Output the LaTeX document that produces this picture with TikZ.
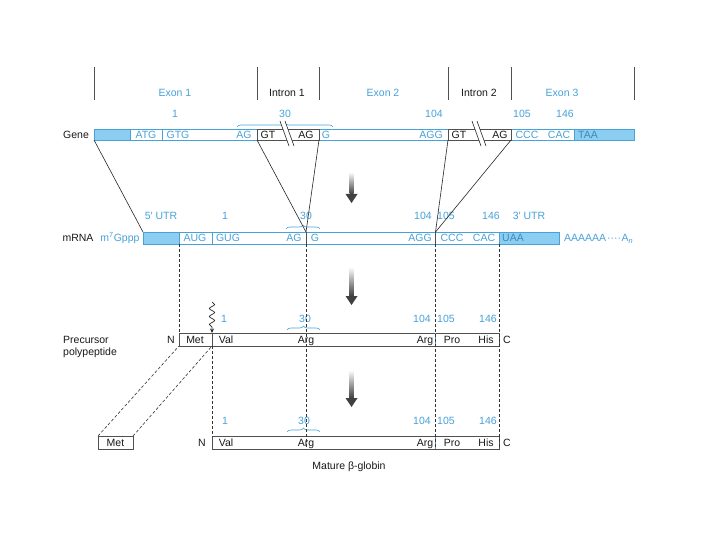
\documentclass[tikz,border=0pt]{standalone}
\usepackage{fontspec}
\setmainfont{Liberation Sans}
\usetikzlibrary{decorations.pathreplacing,decorations.pathmorphing,arrows.meta}
\definecolor{bl}{RGB}{72,162,218}
\definecolor{lb}{RGB}{140,205,242}
\definecolor{dk}{RGB}{80,80,80}
\newcommand{\fsz}{\fontsize{10.5}{12.5}\selectfont}
\begin{document}
\begin{tikzpicture}[x=1pt,y=-1pt,
  txt/.style={inner sep=0pt, font=\fsz, text height=7.5pt, text depth=0pt},
  bt/.style={txt, text=bl},
  kt/.style={txt, text=black!90},
  barb/.style={draw=bl, line width=0.9pt, fill=white, inner sep=0pt, outer sep=0pt, anchor=north west},
  barf/.style={draw=bl, line width=0.9pt, fill=lb, inner sep=0pt, outer sep=0pt, anchor=north west},
  bark/.style={draw=dk, line width=0.9pt, fill=white, inner sep=0pt, outer sep=0pt, anchor=north west},
  dsh/.style={draw=black!80, line width=0.6pt, dash pattern=on 3pt off 2pt},
  conn/.style={draw=black!85, line width=0.6pt},
  tickl/.style={draw=dk, line width=0.9pt},
  brc/.style={draw=bl, line width=0.6pt, decorate, decoration={brace, amplitude=4pt}},
  divb/.style={draw=bl, line width=0.9pt},
  divk/.style={draw=dk, line width=0.9pt}]
\useasboundingbox (0,0) rectangle (720,540);
\fill[white] (0,0) rectangle (720,540);

% header ticks and labels
\foreach \n/\x in {t1/94,t2/257,t3/319,t4/448,t5/511,t6/634}{
  \coordinate (\n a) at (\x,67); \coordinate (\n b) at (\x,100);
  \draw[tickl] (\n a) -- (\n b);}
\node[bt] (ex1) at (175,93) {Exon 1};
\node[kt] (in1) at (287,93) {Intron 1};
\node[bt] (ex2) at (383,93) {Exon 2};
\node[kt] (in2) at (479,93) {Intron 2};
\node[bt] (ex3) at (562,93) {Exon 3};

% gene numbers
\node[bt] (gn1) at (175,114) {1};
\node[bt] (gn30) at (285,114) {30};
\node[bt] (gn104) at (434,114) {104};
\node[bt] (gn105) at (522,114) {105};
\node[bt] (gn146) at (565,114) {146};
\coordinate (gbl) at (237,127); \coordinate (gbr) at (333,127);
\draw[brc] (gbl) -- (gbr);

% gene bar
\node[kt] (genel) at (76,134.5) {Gene};
\node[barb, minimum width=540, minimum height=11] (gene) at (94,129) {};
\node[barf, minimum width=36, minimum height=11] (g5) at (94,129) {};
\node[barf, minimum width=60, minimum height=11] (g3) at (574,129) {};
\node[bark, minimum width=62, minimum height=11] (int1) at (257,129) {};
\node[bark, minimum width=63, minimum height=11] (int2) at (448,129) {};
\coordinate (gd1) at (162,129); \coordinate (gd2) at (162,140);
\draw[divb] (gd1) -- (gd2);
\foreach \a in {280,472}{
  \fill[white] (\a,121) -- (\a+5,121) -- (\a+14,146) -- (\a+9,146) -- cycle;
  \draw[conn] (\a,121) -- (\a+9,146) (\a+5,121) -- (\a+14,146);}
\node[bt] (gATG) at (146,134.5) {ATG};
\node[bt] (gGTG) at (178,134.5) {GTG};
\node[bt] (gAG1) at (244,134.5) {AG};
\node[kt] (gGT1) at (268,134.5) {GT};
\node[kt] (gAG2) at (306,134.5) {AG};
\node[bt] (gG) at (326,134.5) {G};
\node[bt] (gAGG) at (431,134.5) {AGG};
\node[kt] (gGT2) at (459,134.5) {GT};
\node[kt] (gAG3) at (500,134.5) {AG};
\node[bt] (gCCC) at (527,134.5) {CCC};
\node[bt] (gCAC) at (559,134.5) {CAC};
\node[txt, text=bl!85!black] (gTAA) at (588,134.5) {TAA};

% arrows (shaded)
\foreach \n/\ya/\yb in {a1/172/194,a2/267/296,a3/370/398}{
  \coordinate (\n s) at (351.5,\ya); \coordinate (\n h) at (351.5,\yb+9);
  \shade[top color=white, bottom color=black!75] (349.5,\ya) rectangle (353.5,\yb);
  \fill[black!75] (345.5,\yb) -- (357.5,\yb) -- (\n h) -- cycle;}

% mRNA labels
\node[bt] (m5u) at (161,216) {5′ UTR};
\node[bt] (mn1) at (225,216) {1};
\node[bt] (mn30) at (306,216) {30};
\node[bt] (mn104) at (423,216) {104};
\node[bt] (mn105) at (446,216) {105};
\node[bt] (mn146) at (491,216) {146};
\node[bt] (m3u) at (529,216) {3′ UTR};
\coordinate (mbl) at (286,229); \coordinate (mbr) at (320,229);
\draw[brc] (mbl) -- (mbr);

% mRNA bar
\node[kt] (mrnal) at (78,238) {mRNA};
\node[bt] (cap) at (120,238) {m\textsuperscript{7}Gppp};
\node[barb, minimum width=416, minimum height=12] (mrna) at (143,232) {};
\node[barf, minimum width=36, minimum height=12] (m5) at (143,232) {};
\node[barf, minimum width=60, minimum height=12] (m3) at (499,232) {};
\coordinate (j30) at (306,232); \coordinate (j30b) at (306,244);
\coordinate (j104) at (435.5,232); \coordinate (j104b) at (435.5,244);
\coordinate (md1) at (212,232); \coordinate (md2) at (212,244);
\draw[divb] (md1) -- (md2);
\draw[divk] (j30) -- (j30b);
\draw[divk] (j104) -- (j104b);
\node[bt] (mAUG) at (195,238) {AUG};
\node[bt] (mGUG) at (228,238) {GUG};
\node[bt] (mAG) at (294,238) {AG};
\node[bt] (mG) at (315,238) {G};
\node[bt] (mAGG) at (420,238) {AGG};
\node[bt] (mCCC) at (452,238) {CCC};
\node[bt] (mCAC) at (484,238) {CAC};
\node[txt, text=bl!85!black] (mUAA) at (513,238) {UAA};
\node[bt, anchor=west] (polyA) at (564,238) {AAAAAA\kern1pt····\kern0.5ptA\textsubscript{\itshape n}};

% gene to mRNA connectors
\draw[conn] (gene.south west) -- (mrna.north west);
\draw[conn] (int1.south west) -- (j30);
\draw[conn] (int1.south east) -- (j30);
\draw[conn] (int2.south west) -- (j104);
\draw[conn] (int2.south east) -- (j104);

% precursor
\node[bt] (pn1) at (224,319) {1};
\node[bt] (pn30) at (305,319) {30};
\node[bt] (pn104) at (422,319) {104};
\node[bt] (pn105) at (446,319) {105};
\node[bt] (pn146) at (488,319) {146};
\coordinate (pbl) at (287,330); \coordinate (pbr) at (320,330);
\draw[brc] (pbl) -- (pbr);
\node[txt, text=black!90, text height=, anchor=west, align=left] (precl) at (63,346) {Precursor\\[-1pt]polypeptide};
\node[kt] (pN) at (171,339.5) {N};
\node[kt] (pC) at (507,339.5) {C};
\node[bark, minimum width=320, minimum height=13] (prec) at (179,333) {};
\coordinate (pd1) at (212,333); \coordinate (pd2) at (212,346);
\draw[divk] (pd1) -- (pd2);
\coordinate (pb1) at (435.5,333); \coordinate (pb2) at (435.5,346);
\draw[divb] (pb1) -- (pb2);
\node[kt] (pMet) at (195,339.5) {Met};
\node[kt] (pVal) at (226,339.5) {Val};
\node[kt] (pArg1) at (306,339.5) {Arg};
\node[kt] (pArg2) at (425,339.5) {Arg};
\node[kt] (pPro) at (452,339.5) {Pro};
\node[kt] (pHis) at (486,339.5) {His};
\coordinate (wv) at (212,302);
\draw[draw=black!85, line width=0.7pt, -{Stealth[length=4.5pt,width=4pt]},
  decoration={snake, amplitude=2.6pt, segment length=8pt, post length=5pt}, decorate] (wv) -- (pd1);

% mature
\node[bt] (an1) at (225,421) {1};
\node[bt] (an30) at (304,421) {30};
\node[bt] (an104) at (422,421) {104};
\node[bt] (an105) at (446,421) {105};
\node[bt] (an146) at (488,421) {146};
\coordinate (abl) at (287,432); \coordinate (abr) at (320,432);
\draw[brc] (abl) -- (abr);
\node[bark, minimum width=35, minimum height=13] (metbox) at (98,436) {};
\node[kt] (aMetl) at (115.5,442.5) {Met};
\node[kt] (aN) at (202,442.5) {N};
\node[kt] (aC) at (507,442.5) {C};
\node[bark, minimum width=287, minimum height=13] (mat) at (212,436) {};
\coordinate (ab1) at (435.5,436); \coordinate (ab2) at (435.5,449);
\draw[divb] (ab1) -- (ab2);
\node[kt] (aVal) at (226,442.5) {Val};
\node[kt] (aArg1) at (306,442.5) {Arg};
\node[kt] (aArg2) at (425,442.5) {Arg};
\node[kt] (aPro) at (452,442.5) {Pro};
\node[kt] (aHis) at (486,442.5) {His};
\node[kt] (matl) at (349,466) {Mature β-globin};

% dashed lines
\coordinate (d30) at (306,449); \coordinate (d104) at (435.5,449);
\draw[dsh] (m5.south east) -- (prec.north west);
\draw[dsh] (j30b) -- (d30);
\draw[dsh] (j104b) -- (d104);
\draw[dsh] (m3.south west) -- (mat.south east);
\draw[dsh] (pd2) -- (mat.north west);
\draw[dsh] (metbox.north west) -- (prec.south west);
\draw[dsh] (metbox.north east) -- (pd2);
\end{tikzpicture}
\end{document}
